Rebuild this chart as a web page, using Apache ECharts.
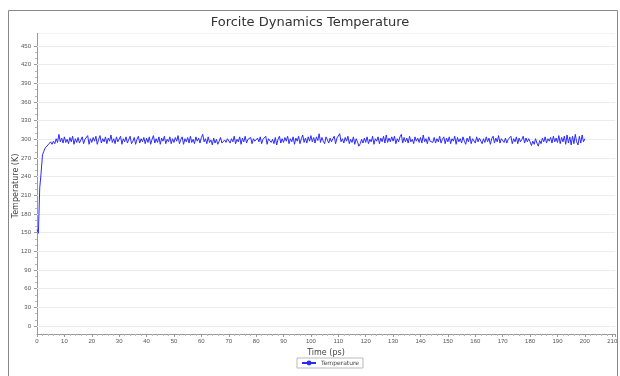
<!DOCTYPE html>
<html>
<head>
<meta charset="utf-8">
<script src="https://cdn.jsdelivr.net/npm/echarts@6/dist/echarts.min.js"></script>
<style>
  html, body { margin: 0; padding: 0; background: #fff; }
  #chart { width: 620px; height: 376px; }
</style>
</head>
<body>
<div id="chart"></div>
<script>
// sample interval of the trajectory (ps)
var timeStep = 0.5;
var xTicks = [0, 210, 10];
var yTicks = [0, 450, 30];
// temperature (K), one value every 0.5 ps from 0 to 200 ps
var temps = [
    155,149,222,246,275,281,286,284,291,289, 296,292,297,293,301,295,308,296,302,294,
    304,295,300,293,303,296,305,292,301,295, 303,294,299,304,293,300,297,306,292,301,
    295,303,297,305,292,300,306,294,301,296, 304,293,302,297,307,295,301,293,304,296,
    299,305,292,301,296,304,294,300,305,293, 297,303,292,300,305,294,301,296,303,293,
    302,295,304,292,300,306,294,301,295,304, 292,302,297,305,293,300,296,304,293,301,
    295,303,297,306,293,300,304,292,301,296, 303,294,305,295,300,293,304,297,302,294,
    303,308,296,301,293,304,295,299,291,302, 294,300,292,297,303,294,291,299,295,301,
    304,294,301,296,305,293,300,296,304,292, 302,296,305,294,300,297,303,293,301,297,
    294,302,296,304,293,300,297,305,292,301, 304,295,300,293,303,291,300,305,294,301,
    295,303,297,305,293,301,296,304,292,302, 297,305,293,301,307,295,302,294,304,297,
    306,296,303,294,304,298,309,295,303,297, 293,304,306,294,302,296,301,305,293,302,
    304,309,296,301,294,303,297,305,293,300, 295,304,292,301,296,289,293,300,294,302,
    295,304,293,300,296,305,292,301,297,304, 293,302,296,305,294,307,295,302,296,304,
    297,305,293,301,296,304,308,294,303,296, 302,294,305,296,300,293,304,297,302,295,
    303,294,307,296,301,293,304,297,300,295, 303,294,301,296,305,294,300,304,293,302,
    296,304,293,301,297,305,292,303,296,301, 294,304,297,292,302,296,305,293,301,298,
    294,304,296,302,305,293,301,295,304,296, 302,292,301,305,294,302,296,306,294,301,
    304,295,302,294,300,297,305,293,301,296, 304,293,302,296,300,305,294,302,296,301,
    296,290,297,292,301,294,289,298,293,302, 296,304,294,301,297,303,294,305,296,302,
    295,306,293,303,296,305,292,307,294,304, 291,305,293,308,296,291,305,294,307,296,
    301
];

var seriesData = temps.map(function (v, i) { return [i * timeStep, v]; });

var chart = echarts.init(document.getElementById('chart'));
var option = {
    animation: false,
    title: {
        text: 'Forcite Dynamics Temperature',
        left: 'center',
        top: 11,
        textStyle: { fontSize: 13, fontWeight: 'normal', color: '#333', fontFamily: 'DejaVu Sans' }
    },
    legend: {
        data: ['Temperature'],
        left: 297,
        top: 358,
        borderColor: '#bbb',
        borderWidth: 1,
        padding: [2, 4],
        itemWidth: 14,
        itemHeight: 6,
        itemGap: 4,
        textStyle: { fontSize: 6, color: '#444', fontFamily: 'DejaVu Sans' }
    },
    grid: { left: 37, right: 5, top: 46, bottom: 50, containLabel: false, outerBoundsMode: 'none' },
    xAxis: {
        type: 'value',
        min: xTicks[0],
        max: 211,
        interval: xTicks[2],
        offset: 8,
        name: 'Time (ps)',
        nameLocation: 'middle',
        nameGap: 15,
        nameMoveOverlap: false,
        nameTextStyle: { fontSize: 8, color: '#444', fontFamily: 'DejaVu Sans' },
        axisLine: { onZero: false, lineStyle: { color: '#999' } },
        axisTick: { length: 3, lineStyle: { color: '#999' } },
        minorTick: { show: true, splitNumber: 5, length: 2, lineStyle: { color: '#bbb' } },
        axisLabel: {
            fontSize: 6, color: '#555', margin: 4,
            formatter: function (v) { return v <= xTicks[1] ? v : ''; }
        },
        splitLine: { show: false }
    },
    yAxis: {
        type: 'value',
        min: yTicks[0],
        max: yTicks[1],
        interval: yTicks[2],
        name: 'Temperature (K)',
        nameLocation: 'middle',
        nameGap: 17,
        nameMoveOverlap: false,
        nameTextStyle: { fontSize: 8, color: '#444', fontFamily: 'DejaVu Sans' },
        axisLine: { show: false },
        axisTick: { show: true, length: 3, lineStyle: { color: '#999' } },
        minorTick: { show: true, splitNumber: 3, length: 2, lineStyle: { color: '#bbb' } },
        axisLabel: { fontSize: 6, color: '#555', margin: 6 },
        splitLine: { show: true, lineStyle: { color: '#ececec', width: 1 } }
    },
    graphic: [
        {
            type: 'rect',
            shape: { x: 8.5, y: 10.5, width: 609, height: 380 },
            style: { fill: 'none', stroke: '#888', lineWidth: 1 },
            silent: true
        },
        {
            type: 'line',
            shape: { x1: 37.5, y1: 33, x2: 37.5, y2: 334 },
            style: { stroke: '#999', lineWidth: 1 },
            silent: true
        },
        {
            type: 'line',
            shape: { x1: 38, y1: 33.5, x2: 615, y2: 33.5 },
            style: { stroke: '#f2f2f2', lineWidth: 1 },
            silent: true
        }
    ],
    series: [
        {
            name: 'Temperature',
            type: 'line',
            data: seriesData,
            symbol: 'circle',
            symbolSize: 5,
            showSymbol: false,
            color: '#2b2bff',
            lineStyle: { color: '#2b2bff', width: 1 }
        }
    ]
};
chart.setOption(option);
</script>
</body>
</html>
